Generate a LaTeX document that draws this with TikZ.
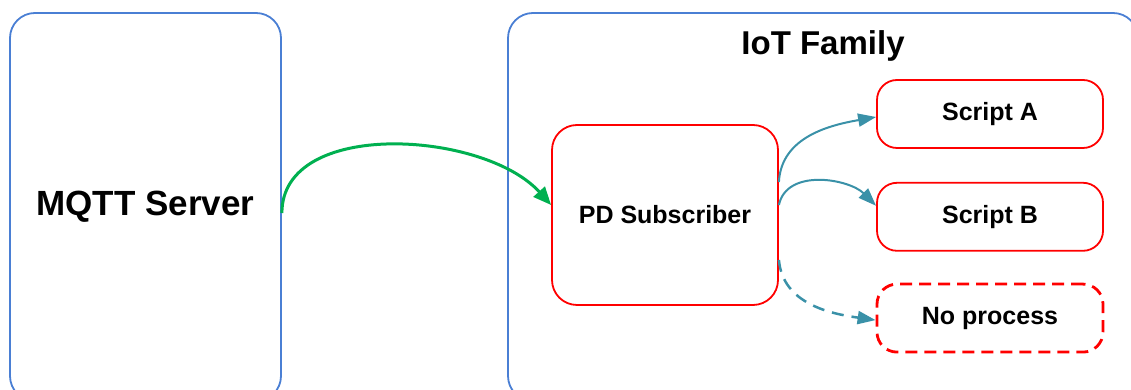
\documentclass[tikz,border=0pt]{standalone}
\usepackage{fontspec}
\setmainfont{Liberation Sans}
\usetikzlibrary{arrows.meta,
                positioning
            }

\definecolor{frameblue}{HTML}{4A7FD4}
\definecolor{taskred}{HTML}{FF0000}
\definecolor{flowteal}{HTML}{3A91A8}
\definecolor{flowgreen}{HTML}{00B050}

\begin{document}
\begin{tikzpicture}[x=1pt, y=1pt,
        frame/.style={draw=frameblue, line width=1.8pt, rounded corners=25pt},
        task/.style={draw=taskred, line width=1.8pt, rounded corners=20pt,
                     minimum width=226pt, minimum height=68pt, inner sep=0pt,
                     font=\fontsize{25}{30}\selectfont\bfseries},
        flow/.style={draw=flowteal, line width=2pt, -{Triangle[length=18pt,width=13pt]}}
    ]
            \useasboundingbox (0,0) rectangle (1131,390);
            \clip (0,0) rectangle (1131,390);
            \node[frame, minimum width=271pt, minimum height=388pt,
                  font=\fontsize{35}{40}\selectfont\bfseries] (mqtt) at (145.5,183) {MQTT Server};
            \node[frame, minimum width=630pt, minimum height=388pt] (iot) at (823,183) {};
            \node[font=\fontsize{33}{38}\selectfont\bfseries] (title) at (823,344) {IoT Family};
            \node[task, rounded corners=25pt, minimum height=180pt] (pd) at (665,175) {PD Subscriber};
            \node[task] (scripta) at (990,276) {Script A};
            \node[task, below=33pt of scripta] (scriptb) {Script B};
            \node[task, dash pattern=on 12pt off 7pt, line width=2.8pt,
                  below=31pt of scriptb] (noproc) {No process};
            \draw[draw=flowgreen, line width=3pt, -{Triangle[length=18pt,width=15pt]}]
                ([yshift=-6pt]mqtt.east) to[out=90, in=132, out distance=95pt, in distance=100pt]
                ([yshift=10pt]pd.west);
            \draw[flow] ([yshift=33pt]pd.east) to[out=87, in=190] ([yshift=-3pt]scripta.west);
            \draw[flow] ([yshift=10pt]pd.east) to[out=78, in=135] ([yshift=11pt]scriptb.west);
            \draw[flow, line width=2.5pt, dash pattern=on 12pt off 8pt]
                ([yshift=-45pt]pd.east) to[out=-85, in=172] ([yshift=-2pt]noproc.west);
        \end{tikzpicture}
\end{document}
